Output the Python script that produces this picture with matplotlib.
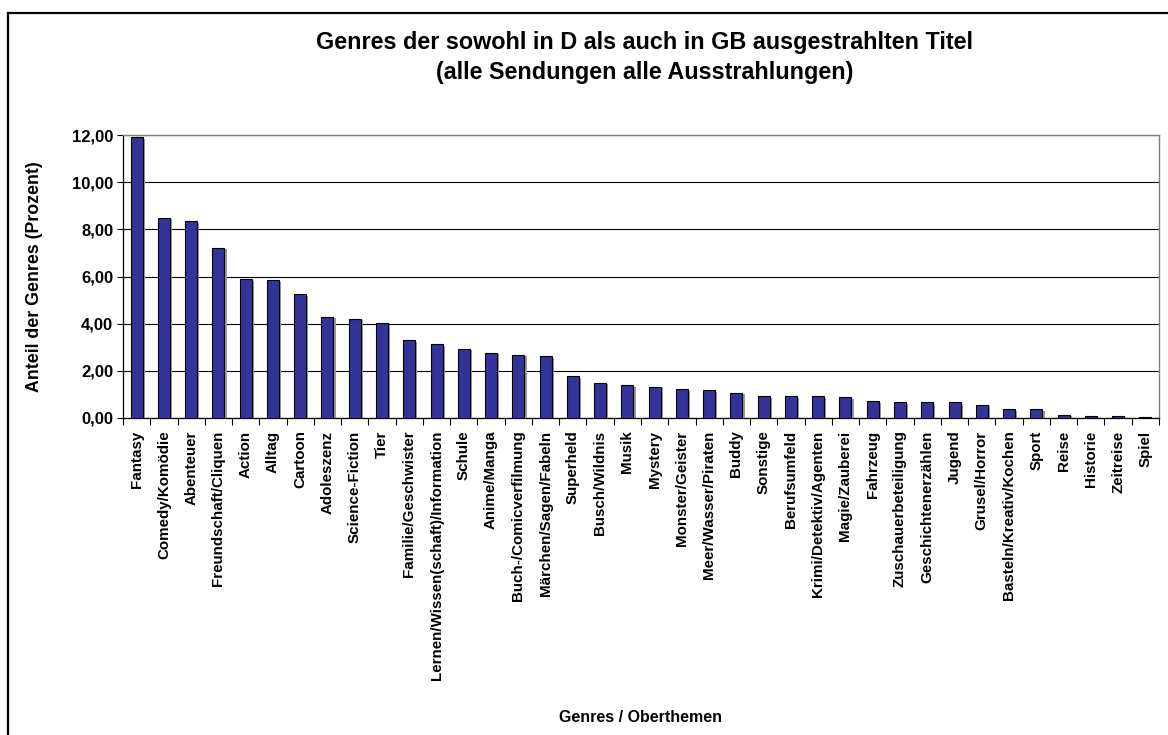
import matplotlib
matplotlib.use("Agg")
import matplotlib.pyplot as plt
import matplotlib.patheffects as pe
from matplotlib.lines import Line2D

plt.rcParams['font.family'] = ['Liberation Sans', 'DejaVu Sans']

genres = [
    "Fantasy", "Comedy/Komödie", "Abenteuer", "Freundschaft/Cliquen", "Action",
    "Alltag", "Cartoon", "Adoleszenz", "Science-Fiction", "Tier",
    "Familie/Geschwister", "Lernen/Wissen(schaft)/Information", "Schule",
    "Anime/Manga", "Buch-/Comicverfilmung", "Märchen/Sagen/Fabeln", "Superheld",
    "Busch/Wildnis", "Musik", "Mystery", "Monster/Geister", "Meer/Wasser/Piraten",
    "Buddy", "Sonstige", "Berufsumfeld", "Krimi/Detektiv/Agenten", "Magie/Zauberei",
    "Fahrzeug", "Zuschauerbeteiligung", "Geschichtenerzählen", "Jugend",
    "Grusel/Horror", "Basteln/Kreativ/Kochen", "Sport", "Reise", "Historie",
    "Zeitreise", "Spiel",
]
anteil = [
    11.91, 8.50, 8.34, 7.22, 5.88, 5.84, 5.24, 4.30, 4.21, 4.02,
    3.30, 3.13, 2.94, 2.77, 2.68, 2.63, 1.76, 1.50, 1.39, 1.33,
    1.23, 1.19, 1.08, 0.92, 0.92, 0.92, 0.87, 0.72, 0.67, 0.67,
    0.67, 0.57, 0.37, 0.37, 0.14, 0.10, 0.10, 0.06,
]
y_ticks = [0, 2, 4, 6, 8, 10, 12]
y_tick_labels = ["0,00", "2,00", "4,00", "6,00", "8,00", "10,00", "12,00"]

W, H = 1168, 735
fig = plt.figure(figsize=(W / 100, H / 100), dpi=100)
fig.patch.set_facecolor("white")

ax = fig.add_axes([123 / W, 1 - 418 / H, (1159 - 123) / W, (418 - 135) / H])

x = list(range(len(genres)))
bars = ax.bar(x, anteil, width=0.44, color="#333399", edgecolor="black",
              linewidth=0.8, zorder=3)
for b in bars:
    b.set_path_effects([
        pe.SimplePatchShadow(offset=(1.6, -1.2), shadow_rgbFace="#9a9a9a", alpha=1.0),
        pe.Normal(),
    ])

ax.set_xlim(-0.5, len(genres) - 0.5)
ax.set_ylim(0, 12)

# y axis
ax.set_yticks(y_ticks)
ax.set_yticklabels(y_tick_labels, fontsize=12, fontweight="bold")
ax.tick_params(axis="y", direction="out", length=4, width=0.8, color="black", pad=3)
ax.yaxis.grid(True, color="black", linewidth=0.8, zorder=0)
ax.set_axisbelow(True)

# x axis: tick marks at category boundaries, labels at category centres
ax.set_xticks([i - 0.5 for i in range(len(genres) + 1)])
ax.set_xticklabels([])
ax.tick_params(axis="x", which="major", direction="out", length=5, width=0.8, color="black")
ax.set_xticks(x, minor=True)
ax.set_xticklabels(genres, minor=True, rotation=90, fontsize=10.9,
                   fontweight="bold", va="top", ha="center")
ax.tick_params(axis="x", which="minor", length=0, pad=9)

for side in ("left", "bottom"):
    ax.spines[side].set_color("black")
    ax.spines[side].set_linewidth(0.9)
for side in ("top", "right"):
    ax.spines[side].set_color("#808080")
    ax.spines[side].set_linewidth(1.0)

fig.text(35 / W, 1 - 277 / H, "Anteil der Genres (Prozent)", fontsize=12.8,
         fontweight="bold", rotation=90, ha="center", va="center")
fig.text(641 / W, 1 - 717 / H, "Genres / Oberthemen", fontsize=11.5,
         fontweight="bold", ha="center", va="center")

fig.text(645 / W, 1 - 42 / H, "Genres der sowohl in D als auch in GB ausgestrahlten Titel",
         fontsize=16.8, fontweight="bold", ha="center", va="center")
fig.text(645 / W, 1 - 72 / H, "(alle Sendungen alle Ausstrahlungen)",
         fontsize=16.8, fontweight="bold", ha="center", va="center")

# chart area frame (left and top edges)
fig.add_artist(Line2D([7.5 / W, 7.5 / W], [0, 1 - 13 / H], color="black",
                      linewidth=1.6, transform=fig.transFigure))
fig.add_artist(Line2D([7.5 / W, 1], [1 - 13 / H, 1 - 13 / H], color="black",
                      linewidth=1.6, transform=fig.transFigure))

fig.savefig("out.png", dpi=100)
